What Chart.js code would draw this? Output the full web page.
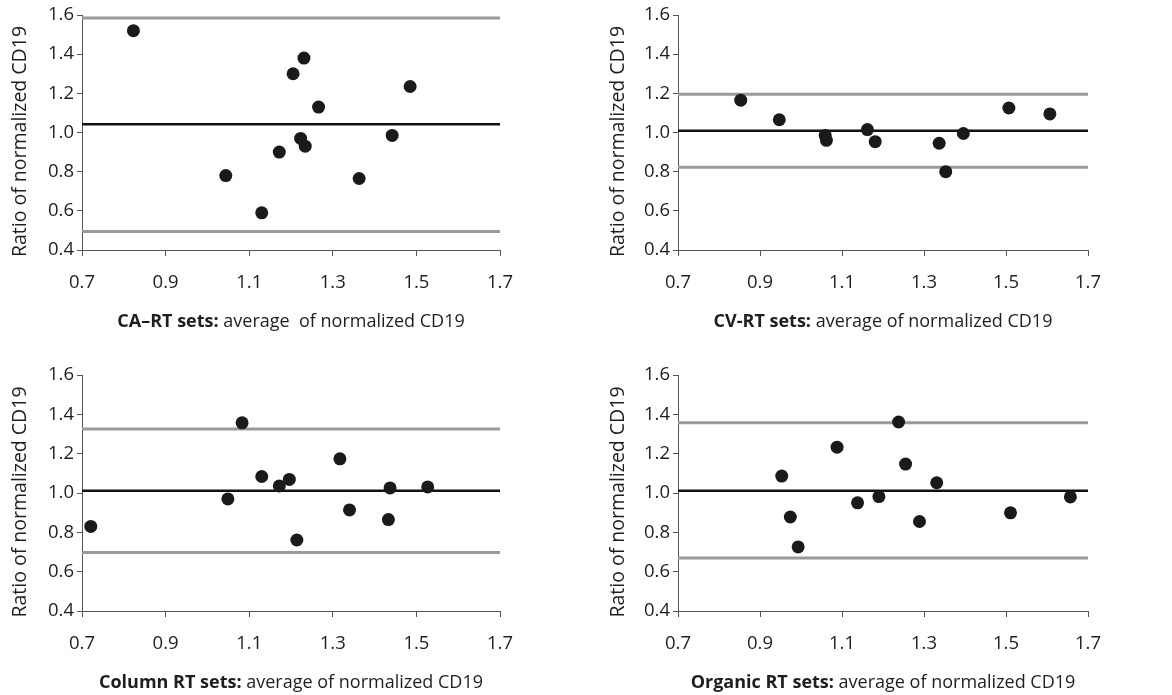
<!DOCTYPE html>
<html>
<head>
<meta charset="utf-8">
<script src="https://cdn.jsdelivr.net/npm/chart.js@4.4.1/dist/chart.umd.min.js"></script>
<style>
  body { margin: 0; background: #fff; width: 1172px; height: 695px; position: relative; overflow: hidden; }
  canvas { position: absolute; }
</style>
</head>
<body>
<canvas id="caRt"></canvas>
<canvas id="cvRt"></canvas>
<canvas id="columnRt"></canvas>
<canvas id="organicRt"></canvas>
<script>
const xTicks = [0.7, 0.9, 1.1, 1.3, 1.5, 1.7];
const yTicks = [0.4, 0.6, 0.8, 1.0, 1.2, 1.4, 1.6];

// CA-RT sets
const caRtX = [0.823, 1.231, 1.205, 1.485, 1.266, 1.442, 1.223, 1.234, 1.172, 1.044, 1.363, 1.130];
const caRtY = [1.52, 1.38, 1.30, 1.235, 1.13, 0.985, 0.97, 0.93, 0.90, 0.78, 0.765, 0.59];
const caRtLimits = [1.585, 1.042, 0.495];   // upper, mean, lower

// CV-RT sets
const cvRtX = [0.853, 0.947, 1.059, 1.062, 1.162, 1.181, 1.337, 1.353, 1.396, 1.507, 1.607];
const cvRtY = [1.165, 1.065, 0.985, 0.96, 1.015, 0.953, 0.945, 0.80, 0.995, 1.125, 1.095];
const cvRtLimits = [1.195, 1.009, 0.822];

// Column RT sets
const columnRtX = [0.721, 1.049, 1.083, 1.130, 1.172, 1.196, 1.214, 1.317, 1.340, 1.433, 1.437, 1.527];
const columnRtY = [0.83, 0.97, 1.357, 1.084, 1.036, 1.069, 0.761, 1.174, 0.914, 0.865, 1.026, 1.031];
const columnRtLimits = [1.325, 1.011, 0.697];

// Organic RT sets
const organicRtX = [0.953, 0.974, 0.993, 1.088, 1.138, 1.190, 1.238, 1.255, 1.289, 1.331, 1.511, 1.657];
const organicRtY = [1.086, 0.878, 0.726, 1.233, 0.95, 0.982, 1.361, 1.147, 0.855, 1.052, 0.899, 0.98];
const organicRtLimits = [1.357, 1.012, 0.670];

const FONT = '"Open Sans", sans-serif';
const TEXT = '#1e1e1e';
const AXIS = '#555';

// axis titles: bold lead + regular rest under x axis, rotated title on the left
const axisTitles = {
  id: 'axisTitles',
  afterDraw(chart, args, opts) {
    const { ctx, chartArea: a } = chart;
    ctx.save();
    ctx.fillStyle = TEXT;
    ctx.textBaseline = 'middle';
    ctx.textAlign = 'left';
    ctx.font = 'bold 18px ' + FONT;
    const wb = ctx.measureText(opts.lead).width;
    ctx.font = '18px ' + FONT;
    const wr = ctx.measureText(opts.rest).width;
    const x = (a.left + a.right) / 2 - (wb + wr) / 2;
    const y = a.bottom + 72;
    ctx.font = 'bold 18px ' + FONT;
    ctx.fillText(opts.lead, x, y);
    ctx.font = '18px ' + FONT;
    ctx.fillText(opts.rest, x + wb, y);

    ctx.translate(20, (a.top + a.bottom) / 2 + 9);
    ctx.rotate(-Math.PI / 2);
    ctx.textAlign = 'center';
    ctx.font = '19.5px ' + FONT;
    ctx.fillText('Ratio of normalized CD19', 0, 0);
    ctx.restore();
  }
};

function flatLine(v) {
  return [{ x: xTicks[0], y: v }, { x: xTicks[xTicks.length - 1], y: v }];
}

function makeChart(id, pos, xs, ys, limits, lead, rest) {
  const canvas = document.getElementById(id);
  canvas.width = pos.w;
  canvas.height = pos.h;
  canvas.style.left = pos.left + 'px';
  canvas.style.top = pos.top + 'px';

  const pontos = xs.map((x, i) => ({ x: x, y: ys[i] }));

  new Chart(canvas, {
    type: 'scatter',
    data: {
      datasets: [
        { data: pontos, pointRadius: 6.5, backgroundColor: '#1a1a1a', borderColor: '#1a1a1a', borderWidth: 0 },
        { data: flatLine(limits[1]), showLine: true, borderColor: '#111', borderWidth: 2.5, pointRadius: 0 },
        { data: flatLine(limits[0]), showLine: true, borderColor: '#9a9a9a', borderWidth: 3, pointRadius: 0 },
        { data: flatLine(limits[2]), showLine: true, borderColor: '#9a9a9a', borderWidth: 3, pointRadius: 0 }
      ]
    },
    options: {
      responsive: false,
      animation: false,
      layout: { padding: { top: 15, right: pos.right, left: 0, bottom: 0 } },
      plugins: {
        legend: { display: false },
        tooltip: { enabled: false },
        axisTitles: { lead: lead, rest: rest }
      },
      scales: {
        x: {
          type: 'linear',
          min: xTicks[0],
          max: xTicks[xTicks.length - 1],
          afterBuildTicks: s => { s.ticks = xTicks.map(v => ({ value: v })); },
          afterFit: s => { s.height = pos.xh; },
          ticks: { callback: v => Number(v).toFixed(1), padding: 16, color: TEXT, font: { family: FONT, size: 18.5 } },
          grid: { drawOnChartArea: false, tickLength: 6, color: AXIS },
          border: { color: AXIS, width: 1 }
        },
        y: {
          type: 'linear',
          min: yTicks[0],
          max: yTicks[yTicks.length - 1],
          afterBuildTicks: s => { s.ticks = yTicks.map(v => ({ value: v })); },
          afterFit: s => { s.width = pos.yw; },
          ticks: { callback: v => Number(v).toFixed(1), padding: 3, color: TEXT, font: { family: FONT, size: 18.5 } },
          grid: { drawOnChartArea: false, tickLength: 5, color: AXIS },
          border: { color: AXIS, width: 1 }
        }
      }
    },
    plugins: [axisTitles]
  });
}

makeChart('caRt', { left: 0, top: 0, w: 580, h: 340, yw: 82, xh: 90, right: 80 },
  caRtX, caRtY, caRtLimits, 'CA\u2013RT sets:', ' average  of normalized CD19');
makeChart('cvRt', { left: 598, top: 0, w: 574, h: 340, yw: 80, xh: 90, right: 84 },
  cvRtX, cvRtY, cvRtLimits, 'CV-RT sets:', ' average of normalized CD19');
makeChart('columnRt', { left: 0, top: 360, w: 580, h: 335, yw: 82, xh: 84, right: 80 },
  columnRtX, columnRtY, columnRtLimits, 'Column RT sets:', ' average of normalized CD19');
makeChart('organicRt', { left: 598, top: 360, w: 574, h: 335, yw: 80, xh: 84, right: 84 },
  organicRtX, organicRtY, organicRtLimits, 'Organic RT sets:', ' average of normalized CD19');
</script>
</body>
</html>
